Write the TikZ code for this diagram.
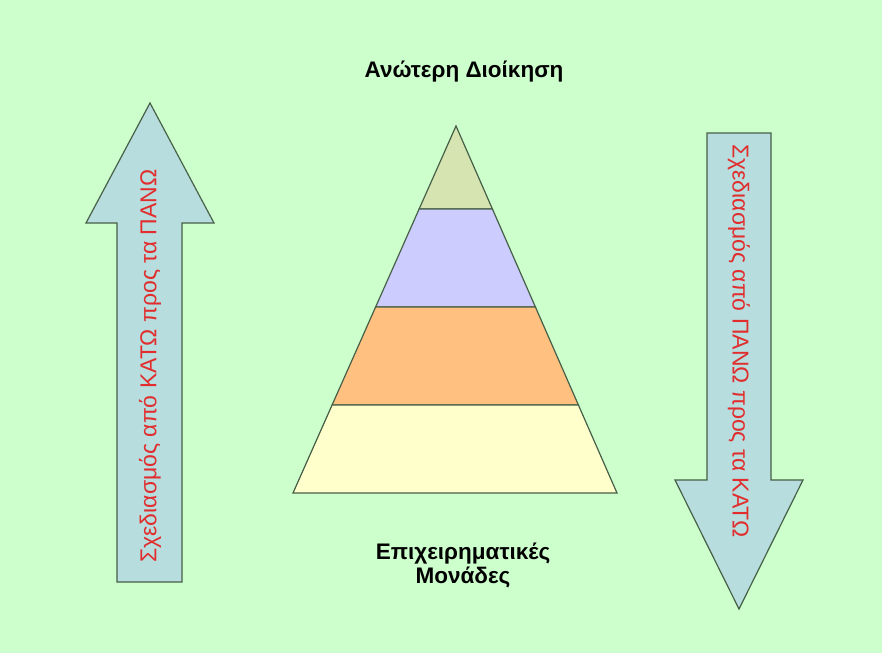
\documentclass[tikz,border=0pt]{standalone}
\usepackage{fontspec}
\setmainfont{Liberation Sans}
\usetikzlibrary{calc}
\definecolor{bgcol}{RGB}{204,255,204}
\definecolor{arrowcol}{RGB}{183,221,222}
\definecolor{edgecol}{RGB}{70,95,70}
\definecolor{textred}{RGB}{225,45,45}
\definecolor{layerA}{RGB}{214,228,178}
\definecolor{layerB}{RGB}{204,204,255}
\definecolor{layerC}{RGB}{255,192,128}
\definecolor{layerD}{RGB}{255,255,204}
\tikzset{
  bigarrow/.style={fill=arrowcol, draw=edgecol, line width=1.2pt, line join=miter},
  layer/.style={draw=edgecol, line width=1.2pt},
  headline/.style={font=\fontsize{22.5}{24}\selectfont\bfseries, align=center},
  arrowtext/.style={font=\fontsize{23}{27}\selectfont, text=textred}
}
\begin{document}
\begin{tikzpicture}[x=1pt,y=-1pt]
  % background
  \fill[bgcol] (0,0) rectangle (882,653);
  \useasboundingbox (0,0) rectangle (882,653);
  % arrows
  \draw[bigarrow] (150,103) -- (214,223) -- (182,223) -- (182,582) -- (117,582) -- (117,223) -- (86,223) -- cycle;
  \draw[bigarrow] (707,133) -- (771,133) -- (771,480) -- (803,480) -- (739,609) -- (675,480) -- (707,480) -- cycle;
  \node[arrowtext, rotate=90] (upward) at (150,366) {Σχεδιασμός από ΚΑΤΩ προς τα ΠΑΝΩ};
  \node[arrowtext, rotate=-90] (downward) at (739,341) {Σχεδιασμός από ΠΑΝΩ προς τα ΚΑΤΩ};
  % pyramid
  \coordinate (apex) at (456,126);
  \coordinate (bl) at (293,493);
  \coordinate (br) at (617,493);
  \foreach \ta/\tb/\col in {0/0.226/layerA, 0.226/0.493/layerB, 0.493/0.760/layerC, 0.760/1/layerD}{
    \draw[layer, fill=\col] ($(apex)!\ta!(bl)$) -- ($(apex)!\tb!(bl)$) -- ($(apex)!\tb!(br)$) -- ($(apex)!\ta!(br)$) -- cycle;
  }
  % labels
  \node[headline] (top) at (464,72) {Ανώτερη Διοίκηση};
  \node[headline] (base) at (463,565) {Επιχειρηματικές\\Μονάδες};
\end{tikzpicture}
\end{document}
